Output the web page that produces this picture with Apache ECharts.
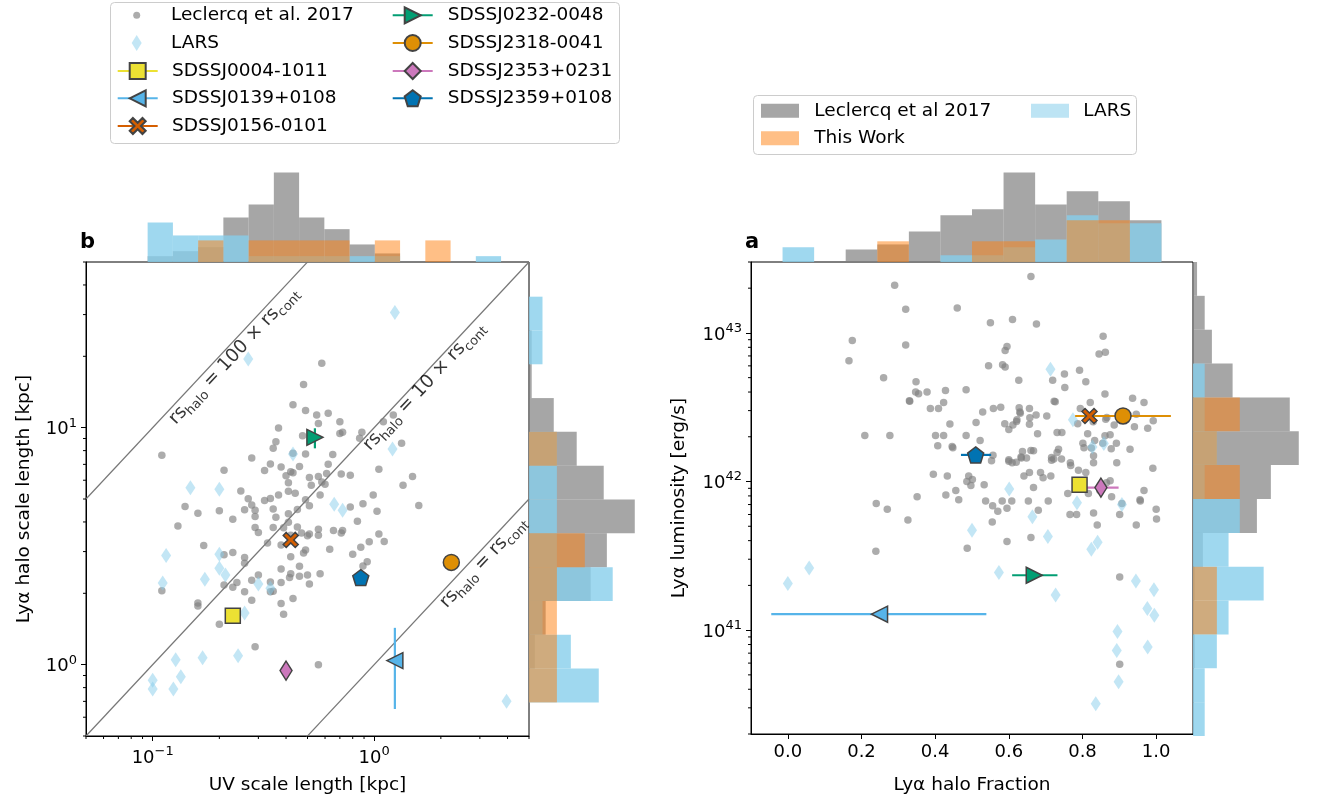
<!DOCTYPE html>
<html>
<head>
<meta charset="utf-8">
<script src="https://cdn.jsdelivr.net/npm/echarts@6/dist/echarts.min.js"></script>
<style>html,body{margin:0;padding:0;background:#fff}#chart{width:1319px;height:800px}</style>
</head>
<body>
<div id="chart"></div>
<script>
// Leclercq et al. 2017: [UV scale length, Lya halo scale length] in kpc
const leclercqSize = [
  [0.58,18.7],[0.48,15.2],[0.43,12.5],[0.49,11.8],[0.55,11.3],[0.62,11.5],[0.56,10.4],[0.70,10.6],[0.37,9.97],[0.475,9.25],
  [0.36,8.73],[0.35,8.18],[0.43,7.79],[0.49,7.74],[0.28,7.45],[0.11,7.64],[1.10,10.6],[1.22,11.3],[0.72,9.56],[0.70,9.44],
  [0.88,9.56],[0.86,9.02],[1.33,8.59],[0.65,7.70],[0.62,7.01],[0.46,6.85],[0.42,6.51],[0.38,6.83],[0.34,7.03],[0.32,6.59],
  [0.21,6.61],[0.40,6.26],[0.43,6.46],[0.51,6.16],[0.56,6.22],[0.61,6.40],[0.58,5.90],[0.52,5.71],[0.60,5.77],[0.71,6.38],
  [0.78,6.30],[1.05,6.67],[1.49,6.22],[1.35,5.71],[0.99,5.20],[1.59,4.69],[0.89,4.78],[0.78,4.63],[1.03,4.44],[0.57,5.20],
  [0.51,4.68],[0.49,4.96],[0.44,5.29],[0.41,5.86],[0.41,5.39],[0.37,5.20],[0.34,5.02],[0.32,4.93],[0.25,5.41],[0.27,5.01],
  [0.28,4.72],[0.29,4.48],[0.26,4.50],[0.29,4.22],[0.20,4.46],[0.16,4.35],[0.14,4.65],[0.13,3.85],[0.23,4.11],[0.35,4.54],
  [0.36,4.19],[0.41,4.33],[0.45,4.51],[0.41,3.99],[0.39,3.78],[0.35,3.79],[0.29,3.79],[0.30,3.61],[0.33,3.26],[0.38,3.20],
  [0.42,3.52],[0.45,3.81],[0.47,3.59],[0.50,3.50],[0.51,3.56],[0.56,3.73],[0.56,3.52],[0.655,3.68],[0.72,3.68],[0.71,3.59],
  [0.84,4.03],[1.05,3.56],[1.11,3.31],[0.95,3.30],[0.87,3.13],[0.80,2.92],[0.63,3.07],[0.49,3.05],[0.48,2.96],[0.42,2.85],
  [0.38,2.53],[0.42,2.42],[0.46,2.60],[0.50,2.39],[0.57,2.42],[0.46,2.36],[0.415,2.33],[0.38,2.22],[0.34,2.23],[0.34,2.03],
  [0.35,2.04],[0.30,2.39],[0.28,2.27],[0.26,2.03],[0.24,2.22],[0.23,2.12],[0.21,2.91],[0.21,2.17],[0.23,2.97],[0.26,2.83],
  [0.26,2.68],[0.17,3.18],[0.16,1.82],[0.16,1.77],[0.11,2.05],[0.20,1.48],[0.28,1.87],[0.38,1.81],[0.39,1.63],[0.43,1.90],
  [0.51,2.19],[0.93,2.72],[0.89,2.61],[0.29,1.19],[0.56,1.00]
];
const larsSize = [
  [1.24,30.6],[0.27,19.5],[0.43,7.74],[1.21,8.13],[0.148,5.58],[0.20,5.50],[0.66,4.75],[0.72,4.48],[0.115,2.89],[0.20,2.92],
  [0.20,2.55],[0.213,2.39],[0.111,2.21],[0.172,2.29],[0.30,2.19],[0.34,2.10],[0.26,1.65],[0.243,1.09],[0.168,1.07],[0.127,1.05],
  [0.134,0.89],[0.10,0.86],[0.10,0.79],[0.124,0.79],[3.96,0.70]
];

// Leclercq et al. 2017: [Lya halo fraction, Lya luminosity erg/s]
const leclercqLum = [
  [0.66,2.4e43],[0.29,2.09e43],[0.32,1.44e43],[0.46,1.47e43],[0.55,1.17e43],[0.61,1.23e43],[0.675,1.15e43],[0.175,8.9e42],[0.32,8.3e42],[0.856,9.5e42],
  [0.845,7.2e42],[0.862,7.4e42],[0.166,6.5e42],[0.545,6.0e42],[0.583,6.1e42],[0.59,5.9e42],[0.595,8.1e42],[0.59,7.6e42],[0.26,5.0e42],[0.348,4.7e42],
  [0.627,4.8e42],[0.719,4.8e42],[0.751,5.3e42],[0.792,5.6e42],[0.809,4.7e42],[0.752,4.3e42],[0.484,4.15e42],[0.428,4.1e42],[0.423,3.4e42],[0.378,4.0e42],
  [0.355,3.9e42],[0.33,3.5e42],[0.331,3.47e42],[0.347,4.0e42],[0.387,3.1e42],[0.409,3.1e42],[0.44,2.44e42],[0.511,2.5e42],[0.529,2.94e42],[0.558,3.1e42],
  [0.578,3.16e42],[0.628,3.13e42],[0.63,2.94e42],[0.631,2.88e42],[0.656,3.1e42],[0.674,2.8e42],[0.657,2.69e42],[0.656,2.43e42],[0.703,2.76e42],[0.589,2.45e42],
  [0.60,2.24e42],[0.611,2.4e42],[0.621,2.53e42],[0.622,2.6e42],[0.723,3.47e42],[0.726,3.44e42],[0.794,3.1e42],[0.821,3.4e42],[0.861,3.88e42],[0.936,3.63e42],
  [0.967,3.4e42],[0.866,2.7e42],[0.886,2.4e42],[0.946,2.84e42],[0.941,2.34e42],[0.977,2.28e42],[0.992,2.56e42],[0.787,2.45e42],[0.814,2.1e42],[0.833,1.89e42],
  [0.861,2.03e42],[0.875,2.06e42],[0.892,1.81e42],[0.878,1.66e42],[0.855,1.81e42],[0.863,2.62e42],[0.829,2.52e42],[0.401,2.04e42],[0.423,2.04e42],[0.484,2.04e42],
  [0.522,1.89e42],[0.407,1.74e42],[0.446,1.72e42],[0.448,1.69e42],[0.511,1.5e42],[0.557,1.5e42],[0.553,1.38e42],[0.60,1.4e42],[0.609,1.34e42],[0.633,1.46e42],
  [0.634,1.44e42],[0.648,1.44e42],[0.637,1.59e42],[0.66,1.62e42],[0.667,1.61e42],[0.678,2.1e42],[0.731,2.14e42],[0.744,2.14e42],[0.735,1.65e42],[0.731,1.57e42],
  [0.716,1.45e42],[0.716,1.39e42],[0.743,1.42e42],[0.767,1.34e42],[0.768,1.28e42],[0.789,1.19e42],[0.809,1.15e42],[0.83,1.34e42],[0.83,1.49e42],[0.801,1.81e42],
  [0.804,1.69e42],[0.824,1.68e42],[0.929,1.65e42],[0.879,7.9e41],[0.893,1.34e42],[0.875,1.01e42],[0.865,9.8e41],[0.847,8.7e41],[0.816,8.3e41],[0.783,9.1e41],
  [0.76,8.3e41],[0.766,6.0e41],[0.784,6.0e41],[0.83,6.15e41],[0.84,5.1e41],[0.901,6.0e41],[0.907,7.1e41],[0.946,5.1e41],[0.957,7.4e41],[0.956,7.55e41],
  [0.967,8.7e41],[0.991,1.23e42],[1.0,6.5e41],[1.001,5.6e41],[0.722,1.42e42],[0.686,1.15e42],[0.693,1.06e42],[0.667,9.1e41],[0.656,1.15e42],[0.641,1.09e42],
  [0.62,1.35e42],[0.60,1.37e42],[0.714,1.09e42],[0.707,7.4e41],[0.68,6.4e41],[0.653,7.4e41],[0.608,7.4e41],[0.595,6.6e41],[0.582,7.4e41],[0.556,6.86e41],
  [0.57,6.3e41],[0.555,5.35e41],[0.537,7.4e41],[0.533,9.5e41],[0.497,9.4e41],[0.491,1.09e42],[0.501,1.03e42],[0.486,1.0e42],[0.456,8.7e41],[0.464,7.55e41],
  [0.429,8.1e41],[0.433,1.09e42],[0.395,1.12e42],[0.351,7.9e41],[0.326,5.5e41],[0.27,6.5e41],[0.24,7.1e41],[0.209,2.04e42],[0.277,2.04e42],[0.239,3.4e41],
  [0.487,3.55e41],[0.595,3.95e41],[0.66,4.2e41],[0.901,2.28e41],[0.901,5.9e40]
];
const larsLum = [
  [0.713,5.7e42],[0.774,2.6e42],[0.827,1.71e42],[0.858,1.8e42],[0.601,8.9e41],[0.785,7.2e41],[0.907,7.0e41],[0.664,5.8e41],[0.50,4.7e41],[0.706,4.27e41],
  [0.824,3.5e41],[0.841,3.9e41],[0.573,2.44e41],[0.727,1.72e41],[0.058,2.62e41],[0.0,2.06e41],[0.945,2.14e41],[0.994,1.87e41],[0.976,1.4e41],[0.995,1.26e41],
  [0.895,9.8e40],[0.893,7.3e40],[0.977,7.7e40],[0.898,4.5e40],[0.836,3.2e40]
];

// this work
const sdssNames = ['SDSSJ0004-1011','SDSSJ0139+0108','SDSSJ0156-0101','SDSSJ0232-0048','SDSSJ2318-0041','SDSSJ2353+0231','SDSSJ2359+0108'];
const sdssColors = ['#ECE133','#56B4E9','#D55E00','#029E73','#DE8F05','#CC78BC','#0173B2'];
const sdssUV = [0.23, 1.24, 0.42, 0.54, 2.23, 0.40, 0.87];
const sdssHalo = [1.61, 1.04, 3.36, 9.10, 2.70, 0.944, 2.33];
const sdssHaloErr = [null, [0.65, 1.43], null, [8.18, 9.94], null, null, null];
const sdssFrac = [0.792, 0.249, 0.819, 0.669, 0.910, 0.850, 0.510];
const sdssLum = [9.5e41, 1.28e41, 2.76e42, 2.34e41, 2.76e42, 9.1e41, 1.51e42];
const sdssFracErr = [null, [-0.045, 0.539], null, [0.609, 0.732], [0.780, 1.040], [0.812, 0.898], [0.470, 0.552]];

// marginal histograms (density)
const uvEdges = [0.0949,0.1234,0.1604,0.2085,0.2711,0.3524,0.4582,0.5957,0.7745,1.007,1.309,1.702,2.213,2.877,3.740];
const uvHistLeclercq = [0.13,0.24,0.33,0.99,1.28,1.99,0.99,0.73,0.39,0.19,0.02,0,0.02,0.02];
const uvHistLars = [0.88,0.59,0.59,0.59,0.13,0.13,0.13,0.13,0.13,0.13,0,0,0,0.13];
const uvHistThisWork = [0,0,0.48,0,0.48,0.48,0.48,0.48,0,0.48,0,0.48,0,0];

const haloEdges = [0.693,0.963,1.337,1.857,2.579,3.582,4.975,6.91,9.60,13.33,18.51,25.71,35.7];
const haloHistLeclercq = [0,0.13,0.37,1.37,1.73,2.35,1.66,1.06,0.55,0.06,0.06,0];
const haloHistLars = [1.55,0.93,0.30,1.86,0.62,0.62,0.62,0.62,0,0,0.30,0.30];
const haloHistThisWork = [0.62,0.62,0.62,0.62,1.24,0,0,0.62,0,0,0,0];

const fracEdges = [-0.1,-0.0143,0.0714,0.1571,0.2429,0.3286,0.4143,0.5,0.5857,0.6714,0.7571,0.8429,0.9286,1.0143,1.1];
const fracHistLeclercq = [0,0,0,0.28,0.39,0.68,1.04,1.17,1.99,1.28,1.57,1.35,0.93,0];
const fracHistLars = [0,0.33,0,0,0,0,0.15,0.15,0.33,0.50,1.04,0.86,0.86,0];
const fracHistThisWork = [0,0,0,0,0.46,0,0,0.46,0.46,0,0.93,0.93,0,0];

const lumEdges = [2.0e40,3.37e40,5.69e40,9.59e40,1.62e41,2.72e41,4.59e41,7.74e41,1.31e42,2.20e42,3.71e42,6.26e42,1.055e43,1.78e43,3.0e43];
const lumHistLeclercq = [0,0,0.04,0,0.04,0.22,1.42,1.73,2.35,2.15,0.88,0.42,0.26,0.09];
const lumHistLars = [0.26,0.26,0.53,0.79,1.57,0.79,1.04,0.26,0.53,0.26,0.26,0,0,0];
const lumHistThisWork = [0,0,0,0.53,0.53,0,0,1.04,0.53,1.04,0,0,0,0];

// axis ticks
const uvTicks = [0.1, 1];
const haloTicks = [1, 10];
const fracTicks = [0, 0.2, 0.4, 0.6, 0.8, 1.0];
const lumTicks = [1e41, 1e42, 1e43];

// diagonal reference lines rs_halo = k * rs_cont
const diagRatios = [100, 10, 1];
const diagLabelPos = [[0.235, 19.9], [1.70, 14.8], [3.15, 2.68]];
const diagLabels = ['{n|rs}{s|halo}{n| = 100 × rs}{s|cont}', '{n|rs}{s|halo}{n| = 10 × rs}{s|cont}', '{n|rs}{s|halo}{n| = rs}{s|cont}'];

const FONT = 'DejaVu Sans';
const GRAY = 'rgba(128,128,128,0.7)';
const SKY = 'rgba(135,206,235,0.8)';
const ORANGE = 'rgba(255,127,14,0.5)';
const EDGE = '#434343';

const X_PATH = 'path://M2,0 L5,3 L8,0 L10,2 L7,5 L10,8 L8,10 L5,7 L2,10 L0,8 L3,5 L0,2 Z';
const PENT_PATH = 'path://M9.51,0 L19.02,6.91 L15.39,18.09 L3.63,18.09 L0,6.91 Z';
const sdssSymbols = ['rect', 'triangle', X_PATH, 'triangle', 'circle', 'diamond', PENT_PATH];
const sdssSizes = [15, 16, 15, 16, 16, [12, 19], 16];
const sdssRotate = [0, 90, 0, -90, 0, 0, 0];

const chart = echarts.init(document.getElementById('chart'));

function powLabel(v) {
  const e = Math.round(Math.log10(v));
  return '{b|10}{e|' + String(e).replace('-', '\u2212') + '}';
}
const powRich = {
  b: { fontSize: 18, lineHeight: 22, verticalAlign: 'bottom', fontFamily: FONT, color: '#000' },
  e: { fontSize: 13, lineHeight: 12, verticalAlign: 'top', fontFamily: FONT, color: '#000' }
};

function mainAxis(extra, ticks, formatter) {
  return Object.assign({
    axisLine: { onZero: false, lineStyle: { color: '#000', width: 1 } },
    axisTick: { customValues: ticks, length: 5, lineStyle: { color: '#000', width: 1 } },
    axisLabel: { customValues: ticks, formatter: formatter, rich: powRich, color: '#000', fontSize: 18, fontFamily: FONT, margin: 9 },
    splitLine: { show: false },
    nameLocation: 'middle',
    nameTextStyle: { fontSize: 18.5, color: '#000', fontFamily: FONT }
  }, extra);
}

function topHist(name, edges, heights, color, axis) {
  return {
    type: 'custom', name: name, xAxisIndex: axis, yAxisIndex: axis, silent: true,
    itemStyle: { color: color },
    data: heights.map((h, i) => [edges[i], edges[i + 1], h]),
    encode: { x: [0, 1], y: 2 },
    renderItem: (params, api) => {
      const a = api.coord([api.value(0), api.value(2)]);
      const b = api.coord([api.value(1), 0]);
      return { type: 'rect', shape: { x: a[0], y: a[1], width: b[0] - a[0], height: b[1] - a[1] }, style: { fill: color } };
    }
  };
}

function sideHist(name, edges, widths, color, axis) {
  return {
    type: 'custom', name: name, xAxisIndex: axis, yAxisIndex: axis, silent: true,
    itemStyle: { color: color },
    data: widths.map((w, i) => [edges[i], edges[i + 1], w]),
    encode: { x: 2, y: [0, 1] },
    renderItem: (params, api) => {
      const a = api.coord([api.value(2), api.value(1)]);
      const b = api.coord([0, api.value(0)]);
      return { type: 'rect', shape: { x: b[0], y: a[1], width: a[0] - b[0], height: b[1] - a[1] }, style: { fill: color } };
    }
  };
}

function minorValues(lo, hi) {
  const out = [];
  for (let e = Math.floor(Math.log10(lo)); e <= Math.ceil(Math.log10(hi)); e++) {
    for (let m = 2; m <= 9; m++) {
      const v = m * Math.pow(10, e);
      if (v >= lo * 0.999 && v <= hi * 1.001) out.push(v);
    }
  }
  return out;
}

function minorTicks(values, axis, fixed, vertical) {
  return {
    type: 'custom', xAxisIndex: axis, yAxisIndex: axis, silent: true, z: 6,
    data: values.map(v => vertical ? [fixed, v] : [v, fixed]),
    encode: { x: 0, y: 1 },
    renderItem: (params, api) => {
      const c = api.coord([api.value(0), api.value(1)]);
      const shape = vertical
        ? { x1: c[0], y1: c[1], x2: c[0] - 3, y2: c[1] }
        : { x1: c[0], y1: c[1], x2: c[0], y2: c[1] + 3 };
      return { type: 'line', shape: shape, style: { stroke: '#000', lineWidth: 1 } };
    }
  };
}

const series = [];

// left panel: size vs size
diagRatios.forEach(r => {
  series.push({
    type: 'line', xAxisIndex: 0, yAxisIndex: 0, silent: true, symbol: 'none', clip: true, z: 1,
    data: [0.05, 5].map(x => [x, x * r]),
    lineStyle: { color: '#777777', width: 1.2 }
  });
});
series.push({
  type: 'scatter', xAxisIndex: 0, yAxisIndex: 0, silent: true, symbolSize: 0, z: 1,
  data: diagLabelPos,
  label: {
    show: true, position: 'inside', rotate: 47,
    formatter: p => diagLabels[p.dataIndex],
    rich: {
      n: { fontSize: 18.5, lineHeight: 22, verticalAlign: 'top', fontFamily: FONT, color: '#000' },
      s: { fontSize: 13, lineHeight: 10, verticalAlign: 'bottom', fontFamily: FONT, color: '#000' }
    }
  }
});
series.push({
  type: 'scatter', name: 'Leclercq et al. 2017', xAxisIndex: 0, yAxisIndex: 0, silent: true, z: 2,
  data: leclercqSize, symbolSize: 7.5, itemStyle: { color: '#808080', opacity: 0.65 }
});
series.push({
  type: 'scatter', name: 'LARS', xAxisIndex: 0, yAxisIndex: 0, silent: true, z: 3,
  data: larsSize, symbol: 'diamond', symbolSize: [10, 15], itemStyle: { color: '#87CEEB', opacity: 0.5 }
});

// right panel: fraction vs luminosity
series.push({
  type: 'scatter', name: 'Leclercq et al. 2017', xAxisIndex: 3, yAxisIndex: 3, silent: true, z: 2,
  data: leclercqLum, symbolSize: 7.5, itemStyle: { color: '#808080', opacity: 0.65 }
});
series.push({
  type: 'scatter', name: 'LARS', xAxisIndex: 3, yAxisIndex: 3, silent: true, z: 3,
  data: larsLum, symbol: 'diamond', symbolSize: [10, 15], itemStyle: { color: '#87CEEB', opacity: 0.5 }
});

// error bars
sdssNames.forEach((name, i) => {
  if (sdssHaloErr[i]) {
    series.push({
      type: 'line', xAxisIndex: 0, yAxisIndex: 0, silent: true, symbol: 'none', z: 4,
      data: sdssHaloErr[i].map(v => [sdssUV[i], v]),
      lineStyle: { color: sdssColors[i], width: 2.2 }
    });
  }
  if (sdssFracErr[i]) {
    series.push({
      type: 'line', xAxisIndex: 3, yAxisIndex: 3, silent: true, symbol: 'none', z: 4,
      data: sdssFracErr[i].map(v => [v, sdssLum[i]]),
      lineStyle: { color: sdssColors[i], width: 2.2 }
    });
  }
});

// this work markers
sdssNames.forEach((name, i) => {
  const common = {
    type: 'line', name: name, silent: true, z: 5, showSymbol: true,
    symbol: sdssSymbols[i], symbolSize: sdssSizes[i], symbolRotate: sdssRotate[i],
    itemStyle: { color: sdssColors[i], borderColor: EDGE, borderWidth: 1.5 },
    lineStyle: { color: sdssColors[i], width: 2.5 }
  };
  series.push(Object.assign({}, common, { xAxisIndex: 0, yAxisIndex: 0, data: [[sdssUV[i], sdssHalo[i]]] }));
  series.push(Object.assign({}, common, { xAxisIndex: 3, yAxisIndex: 3, data: [[sdssFrac[i], sdssLum[i]]] }));
});

// marginal histograms
series.push(topHist('Leclercq et al 2017', uvEdges, uvHistLeclercq, GRAY, 1));
series.push(topHist('LARS', uvEdges, uvHistLars, SKY, 1));
series.push(topHist('This Work', uvEdges, uvHistThisWork, ORANGE, 1));
series.push(sideHist('Leclercq et al 2017', haloEdges, haloHistLeclercq, GRAY, 2));
series.push(sideHist('LARS', haloEdges, haloHistLars, SKY, 2));
series.push(sideHist('This Work', haloEdges, haloHistThisWork, ORANGE, 2));
series.push(topHist('Leclercq et al 2017', fracEdges, fracHistLeclercq, GRAY, 4));
series.push(topHist('LARS', fracEdges, fracHistLars, SKY, 4));
series.push(topHist('This Work', fracEdges, fracHistThisWork, ORANGE, 4));
series.push(sideHist('Leclercq et al 2017', lumEdges, lumHistLeclercq, GRAY, 5));
series.push(sideHist('LARS', lumEdges, lumHistLars, SKY, 5));
series.push(sideHist('This Work', lumEdges, lumHistThisWork, ORANGE, 5));

// minor ticks on log axes
series.push(minorTicks(minorValues(0.05, 5), 0, 0.5, false));
series.push(minorTicks(minorValues(0.5, 50), 0, 0.05, true));
series.push(minorTicks(minorValues(2e40, 3e43), 3, -0.1, true));

function legendItem(data, cx, cy, w, h, textX, extra) {
  return Object.assign({
    data: [data], left: cx - w / 2, top: cy - 11, itemWidth: w, itemHeight: h, padding: 0,
    selectedMode: false, symbolKeepAspect: false,
    textStyle: { fontSize: 18.5, lineHeight: 22, color: '#000', fontFamily: FONT, padding: [0, 0, 0, textX - (cx + w / 2) - 5] }
  }, extra || {});
}

const legends = [
  legendItem('Leclercq et al. 2017', 136.7, 15.3, 7, 7, 171),
  legendItem('LARS', 136.7, 43, 10, 16, 171),
  legendItem(sdssNames[0], 136.7, 71, 40, 20, 171),
  legendItem(sdssNames[1], 136.7, 98.3, 40, 20, 171),
  legendItem(sdssNames[2], 136.7, 126, 40, 20, 171),
  legendItem(sdssNames[3], 411.7, 15.3, 40, 20, 446.7),
  legendItem(sdssNames[4], 411.7, 43, 40, 20, 446.7),
  legendItem(sdssNames[5], 411.7, 71, 40, 20, 446.7),
  legendItem(sdssNames[6], 411.7, 98.3, 40, 20, 446.7),
  legendItem('Leclercq et al 2017', 780, 110.7, 38, 14, 814.3, { icon: 'rect' }),
  legendItem('This Work', 780, 138.3, 38, 14, 814.3, { icon: 'rect' }),
  legendItem({ name: 'LARS', icon: 'rect', itemStyle: { color: 'rgba(135,206,235,0.55)', opacity: 1, borderWidth: 0 } }, 1050, 110.7, 38, 14, 1083.3)
];

const option = {
  animation: false,
  textStyle: { fontFamily: FONT },
  title: [
    { text: 'b', left: 80, top: 232, padding: 0, textStyle: { fontSize: 21, fontWeight: 'bold', color: '#000', fontFamily: FONT } },
    { text: 'a', left: 745, top: 232, padding: 0, textStyle: { fontSize: 21, fontWeight: 'bold', color: '#000', fontFamily: FONT } }
  ],
  graphic: [
    { type: 'rect', z: -1, shape: { x: 110.5, y: 2.5, width: 509, height: 141, r: 4 }, style: { fill: 'rgba(255,255,255,0.8)', stroke: '#cccccc', lineWidth: 1 } },
    { type: 'rect', z: -1, shape: { x: 753.5, y: 95.5, width: 383, height: 59, r: 4 }, style: { fill: 'rgba(255,255,255,0.8)', stroke: '#cccccc', lineWidth: 1 } }
  ],
  legend: legends,
  grid: [
    { left: 86, top: 262, width: 443, height: 474, show: true, borderColor: '#000', borderWidth: 1, backgroundColor: 'transparent' },
    { left: 86, top: 172, width: 443, height: 90 },
    { left: 529, top: 262, width: 110, height: 474 },
    { left: 751, top: 262, width: 442, height: 474, show: true, borderColor: '#000', borderWidth: 1, backgroundColor: 'transparent' },
    { left: 751, top: 172, width: 442, height: 90 },
    { left: 1193, top: 262, width: 110, height: 474 }
  ],
  xAxis: [
    mainAxis({ gridIndex: 0, type: 'log', min: 0.05, max: 5, name: 'UV scale length [kpc]', nameGap: 40 }, uvTicks, powLabel),
    { gridIndex: 1, type: 'log', min: 0.05, max: 5, show: false },
    { gridIndex: 2, type: 'value', min: 0, max: 2.444, show: false },
    mainAxis({ gridIndex: 3, type: 'value', min: -0.1, max: 1.1, name: 'Ly\u03b1 halo Fraction', nameGap: 42 }, fracTicks, v => v.toFixed(1)),
    { gridIndex: 4, type: 'value', min: -0.1, max: 1.1, show: false },
    { gridIndex: 5, type: 'value', min: 0, max: 2.444, show: false }
  ],
  yAxis: [
    mainAxis({ gridIndex: 0, type: 'log', min: 0.5, max: 50, name: 'Ly\u03b1 halo scale length [kpc]', nameGap: 52 }, haloTicks, powLabel),
    { gridIndex: 1, type: 'value', min: 0, max: 2, show: false },
    { gridIndex: 2, type: 'log', min: 0.5, max: 50, show: false },
    mainAxis({ gridIndex: 3, type: 'log', min: 2e40, max: 3e43, name: 'Ly\u03b1 luminosity [erg/s]', nameGap: 62 }, lumTicks, powLabel),
    { gridIndex: 4, type: 'value', min: 0, max: 2, show: false },
    { gridIndex: 5, type: 'log', min: 2e40, max: 3e43, show: false }
  ],
  series: series
};

chart.setOption(option);
window.addEventListener('resize', () => chart.resize());
</script>
</body>
</html>
